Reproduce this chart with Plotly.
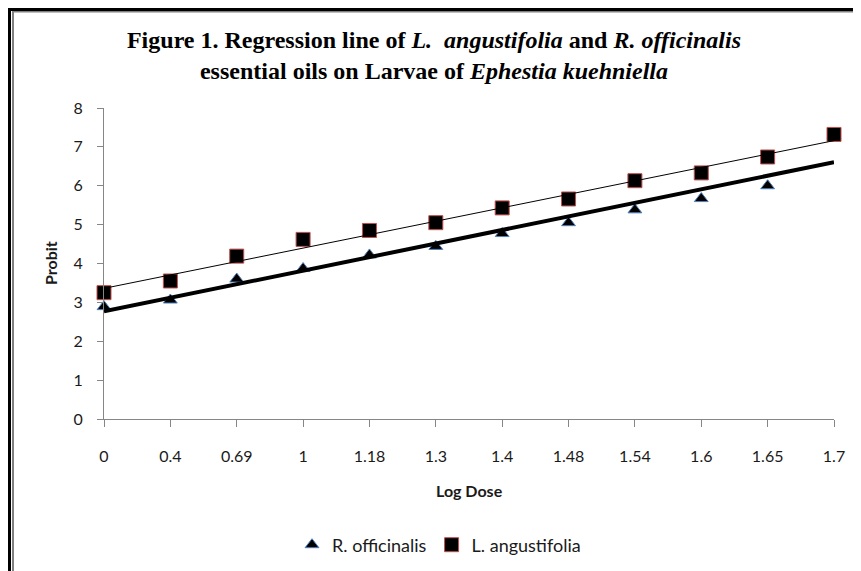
import numpy as np
import plotly.graph_objects as go

# ---- data ----
log_dose = ["0", "0.4", "0.69", "1", "1.18", "1.3", "1.4", "1.48", "1.54", "1.6", "1.65", "1.7"]
r_officinalis = [2.89, 3.06, 3.60, 3.87, 4.22, 4.44, 4.77, 5.05, 5.38, 5.67, 6.00, 7.30]
l_angustifolia = [3.25, 3.55, 4.19, 4.62, 4.85, 5.05, 5.43, 5.66, 6.13, 6.33, 6.74, 7.32]
y_ticks = [0, 1, 2, 3, 4, 5, 6, 7, 8]

# page body has an 8px margin, so the figure is 853x563 and sits at (8, 8)
W, H = 853, 563
ML, MR, MT, MB = 96, 27, 100, 152
PW, PH = W - ML - MR, H - MT - MB

def px(x):
    return (x - ML) / PW

def py(y):
    return (H - MB - y) / PH

idx = np.arange(len(log_dose))
fit_r = np.polyval(np.polyfit(idx, r_officinalis, 1), idx)
fit_l = np.polyval(np.polyfit(idx, l_angustifolia, 1), idx)

fig = go.Figure()

fig.add_trace(go.Scatter(
    x=log_dose, y=r_officinalis, mode="markers", name="R. officinalis",
    marker=dict(symbol="triangle-up", size=12, color="black",
                line=dict(color="#4F81BD", width=1)),
    cliponaxis=False))
fig.add_trace(go.Scatter(
    x=log_dose, y=l_angustifolia, mode="markers", name="L. angustifolia",
    marker=dict(symbol="square", size=14, color="black",
                line=dict(color="#C0504D", width=1)),
    cliponaxis=False))
fig.add_trace(go.Scatter(
    x=log_dose, y=fit_r, mode="lines", showlegend=False,
    line=dict(color="black", width=4), cliponaxis=False, hoverinfo="skip"))
fig.add_trace(go.Scatter(
    x=log_dose, y=fit_l, mode="lines", showlegend=False,
    line=dict(color="black", width=1), cliponaxis=False, hoverinfo="skip"))

axis_gray = "#868686"
tick_font = dict(family="Lato", size=16, color="#1a1a1a")

fig.update_xaxes(
    type="category", range=[0, len(log_dose) - 1],
    showline=True, linecolor=axis_gray, linewidth=1,
    ticks="outside", ticklen=7, tickcolor=axis_gray,
    showgrid=False, zeroline=False, tickfont=tick_font,
    ticklabelstandoff=16)
fig.update_yaxes(
    range=[0, 8], tickvals=y_ticks,
    showline=True, linecolor=axis_gray, linewidth=1,
    ticks="outside", ticklen=6, tickcolor=axis_gray,
    showgrid=False, zeroline=False, tickfont=tick_font,
    ticklabelstandoff=11)

shapes = [
    dict(type="line", xref="paper", yref="paper", x0=px(1.5), x1=px(1.5), y0=py(0), y1=py(H + 5),
         line=dict(color="black", width=3)),
    dict(type="line", xref="paper", yref="paper", x0=px(5), x1=px(5), y0=py(3), y1=py(H + 5),
         line=dict(color="#808080", width=2)),
    dict(type="line", xref="paper", yref="paper", x0=px(4), x1=px(W + 5), y0=py(3.8), y1=py(3.8),
         line=dict(color="#808080", width=1.5)),
    dict(type="line", xref="paper", yref="paper", x0=px(0), x1=px(W + 5), y0=py(1.5), y1=py(1.5),
         line=dict(color="black", width=3)),
]

annotations = [
    dict(text="<b>Log Dose</b>", xref="paper", yref="paper", x=px(461), y=py(482),
         xanchor="center", yanchor="middle", showarrow=False,
         font=dict(family="Lato", size=16, color="#1a1a1a")),
    dict(text="<b>Probit</b>", xref="paper", yref="paper", x=px(42), y=py(255),
         xanchor="center", yanchor="middle", showarrow=False, textangle=-90,
         font=dict(family="Lato", size=16, color="#1a1a1a")),
]

fig.update_layout(
    width=W, height=H,
    margin=dict(l=ML, r=MR, t=MT, b=MB, autoexpand=False),
    paper_bgcolor="white", plot_bgcolor="white",
    title=dict(
        text="<b>Figure 1. Regression line of <i>L.  angustifolia</i> and <i>R. officinalis</i><br>"
             "essential oils on Larvae of <i>Ephestia kuehniella</i></b>",
        x=426 / W, xref="container", xanchor="center",
        y=1 - 40 / H, yanchor="middle",
        font=dict(family="Liberation Serif", size=24, color="black")),
    showlegend=True,
    legend=dict(orientation="h", x=px(284), y=py(537), xanchor="left", yanchor="middle",
                font=dict(family="Lato", size=18, color="#1a1a1a"),
                itemwidth=30, bgcolor="rgba(0,0,0,0)"),
    shapes=shapes, annotations=annotations,
)

fig.write_html("out.html")
